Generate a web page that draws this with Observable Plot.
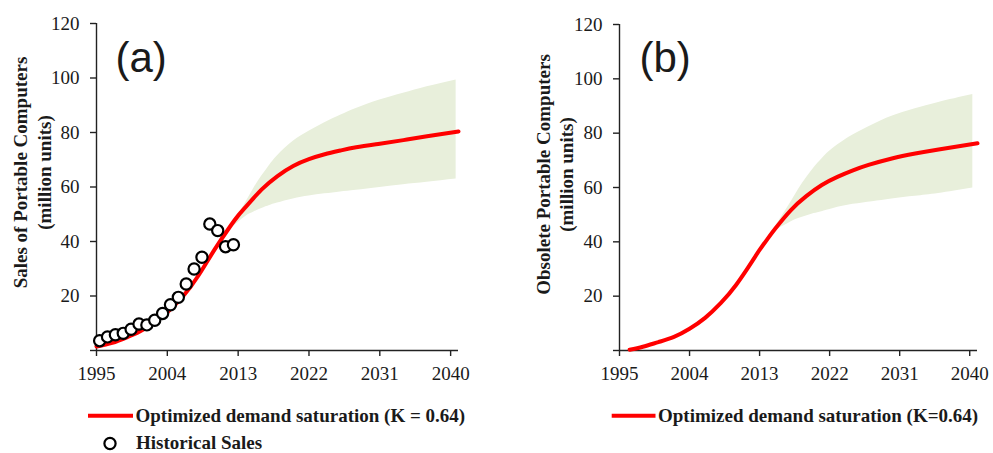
<!DOCTYPE html>
<html>
<head>
<meta charset="utf-8">
<script src="https://cdn.jsdelivr.net/npm/d3@7"></script>
<script src="https://cdn.jsdelivr.net/npm/@observablehq/plot@0.6"></script>
<style>
  html, body { margin: 0; padding: 0; background: #fff; }
  #root { position: relative; width: 993px; height: 453px; overflow: hidden; background: #fff; }
  #root > svg, #root > figure { position: absolute; top: 0; margin: 0; }
</style>
</head>
<body>
<div id="root"></div>
<script>
// ---------- data ----------
const tickYears = [1995, 2004, 2013, 2022, 2031, 2040];
const yTicks = [0, 20, 40, 60, 80, 100, 120];
const yTickLabels = ["", "20", "40", "60", "80", "100", "120"];

// Panel (a): historical sales (mid-year points)
const histYears = [1995, 1996, 1997, 1998, 1999, 2000, 2001, 2002, 2003, 2004, 2005, 2006, 2007, 2008, 2009, 2010, 2011, 2012];
const histSales = [3.6, 5.0, 5.8, 6.3, 7.8, 9.7, 9.4, 11.1, 13.6, 16.8, 19.5, 24.4, 29.9, 34.2, 46.4, 44.0, 38.1, 38.8];

// Panel (a): optimized demand saturation fit
const fitYearsA = [1995, 1997, 1999, 2001, 2003, 2004, 2006, 2008, 2010, 2012, 2013, 2014, 2016, 2018, 2020, 2022, 2024, 2026, 2028, 2031, 2034, 2037, 2041];
const fitValuesA = [1.5, 2.8, 5.0, 7.8, 11.8, 14.0, 19.9, 27.7, 37.0, 45.6, 49.5, 52.8, 59.1, 64.0, 67.7, 70.2, 72.0, 73.4, 74.6, 75.9, 77.2, 78.6, 80.4];

// Panel (a): uncertainty band
const bandYearsA = [2012.3, 2013, 2014, 2015, 2016, 2017, 2018, 2020, 2022, 2024, 2026, 2028, 2031, 2034, 2037, 2040.7];
const bandLowA   = [45.4, 47.0, 49.3, 50.8, 52.1, 53.2, 54.1, 55.6, 56.7, 57.5, 58.2, 58.8, 59.8, 60.8, 61.7, 62.9];
const bandHighA  = [45.4, 49.5, 54.5, 59.5, 64.0, 68.0, 71.5, 76.8, 80.5, 83.6, 86.3, 88.8, 91.9, 94.4, 96.8, 99.3];

// Panel (b): obsolete portable computers
const fitYearsB = [1996.3, 1998, 2000, 2002, 2004, 2006, 2008, 2010, 2012, 2013, 2014, 2015, 2017, 2019, 2021, 2023, 2025, 2027, 2030, 2033, 2036, 2041];
const fitValuesB = [0.3, 1.4, 3.1, 5.0, 8.0, 12.0, 17.4, 24.2, 32.6, 37.0, 41.0, 44.8, 51.6, 56.8, 60.9, 63.9, 66.3, 68.3, 70.7, 72.5, 74.0, 76.3];

const bandYearsB = [2013.9, 2015, 2016, 2017, 2018, 2019, 2020, 2021, 2022.5, 2025, 2027.5, 2030, 2033, 2036, 2040.4];
const bandLowB   = [40.6, 43.8, 45.7, 47.3, 48.6, 49.5, 50.4, 51.1, 52.3, 53.8, 54.8, 55.8, 56.8, 57.8, 59.8];
const bandHighB  = [40.6, 45.5, 50.0, 54.5, 59.3, 63.5, 67.3, 70.5, 74.5, 79.3, 83.0, 86.2, 89.0, 91.3, 94.2];

const legendA = ["Optimized demand saturation (K = 0.64)", "Historical Sales"];
const legendB = ["Optimized demand saturation (K=0.64)"];
const yLabelA = "Sales of Portable Computers\n(million units)";
const yLabelB = "Obsolete Portable Computers\n(million units)";

// ---------- helpers ----------
const zip = (xs, ...cols) => xs.map((x, i) => [x, ...cols.map(c => c[i])]);
const RED = "#ff0000";
const BAND = "#e8efdb";
const INK = "#1a1a1a";
const SERIF = "'Liberation Serif', 'Times New Roman', serif";

function panel({width, marginLeft, marginRight, marginTop, fit, band, hist, yLabel, labelDx, labelDy, tag, tagDx, tagDy}) {
  const yTickData = zip(yTicks, yTickLabels);
  const marks = [
    Plot.areaY(band, {x: d => d[0], y1: d => d[1], y2: d => d[2], fill: BAND, curve: "natural"}),
    Plot.ruleY([0], {stroke: "#222", strokeWidth: 1.4}),
    Plot.ruleX([1995], {stroke: "#222", strokeWidth: 1.4}),
    Plot.axisX({ticks: tickYears, tickSize: 6, text: null, stroke: "#222", strokeWidth: 1.4}),
    Plot.axisY({ticks: yTicks, tickSize: 6, text: null, stroke: "#222", strokeWidth: 1.4}),
    Plot.text(tickYears, {x: d => d, frameAnchor: "bottom", lineAnchor: "top", textAnchor: "middle", dy: 16,
      text: d => String(d), fontFamily: SERIF, fontSize: 19, fill: INK}),
    Plot.text(yTickData, {y: d => d[0], text: d => d[1], frameAnchor: "left", lineAnchor: "middle", textAnchor: "end", dx: -17,
      fontFamily: SERIF, fontSize: 19, fill: INK}),
    Plot.line(fit, {x: d => d[0], y: d => d[1], stroke: RED, strokeWidth: 4, curve: "natural"}),
  ];
  if (hist) {
    marks.push(Plot.dot(hist, {x: d => d[0] + 0.4, y: d => d[1], r: 5.6, stroke: "#000", strokeWidth: 2.2, fill: "white"}));
  }
  marks.push(
    Plot.text([yLabel], {frameAnchor: "left", rotate: -90, textAnchor: "middle", lineAnchor: "middle",
      lineHeight: 1.24, dx: labelDx, dy: labelDy, fontWeight: "bold", fill: INK, fontSize: 19, fontFamily: SERIF}),
    Plot.text([tag], {frameAnchor: "top-left", textAnchor: "start", lineAnchor: "bottom",
      dx: tagDx, dy: tagDy, fontFamily: "'Liberation Sans', Arial, sans-serif", fontSize: 42, fill: INK})
  );
  return Plot.plot({
    width, height: 385,
    marginLeft, marginRight, marginTop, marginBottom: 35,
    x: {domain: [1995, 2041], axis: null},
    y: {domain: [0, 120], axis: null},
    style: {fontFamily: SERIF, fontSize: "19px", background: "transparent", overflow: "visible", color: INK},
    marks
  });
}

const root = document.getElementById("root");

const a = panel({
  width: 500, marginLeft: 96, marginRight: 42, marginTop: 23,
  fit: zip(fitYearsA, fitValuesA),
  band: zip(bandYearsA, bandLowA, bandHighA),
  hist: zip(histYears, histSales),
  yLabel: yLabelA, labelDx: -65, labelDy: -14.5,
  tag: "(a)", tagDx: 19, tagDy: 48
});
a.style.left = "0px";
root.appendChild(a);

const b = panel({
  width: 496, marginLeft: 122, marginRight: 16, marginTop: 24,
  fit: zip(fitYearsB, fitValuesB),
  band: zip(bandYearsB, bandLowB, bandHighB),
  hist: null,
  yLabel: yLabelB, labelDx: -65.5, labelDy: -13,
  tag: "(b)", tagDx: 20, tagDy: 47
});
b.style.left = "497px";
root.appendChild(b);

// ---------- legends ----------
const leg = d3.select(root).append("svg")
  .attr("width", 993).attr("height", 453)
  .style("left", "0px").style("pointer-events", "none")
  .style("font-family", SERIF).style("font-size", "19px").style("font-weight", "bold");

function legendLine(x1, x2, y, label) {
  leg.append("line").attr("x1", x1).attr("x2", x2).attr("y1", y).attr("y2", y)
    .attr("stroke", RED).attr("stroke-width", 4);
  leg.append("text").attr("x", x2 + 2.5).attr("y", y + 6.5).attr("fill", INK).text(label);
}
legendLine(88, 133, 415.7, legendA[0]);
leg.append("circle").attr("cx", 110).attr("cy", 443.5).attr("r", 5.6)
  .attr("fill", "none").attr("stroke", "#000").attr("stroke-width", 2.2);
leg.append("text").attr("x", 136).attr("y", 449).attr("fill", INK).text(legendA[1]);
legendLine(611.7, 655.5, 415.7, legendB[0]);
</script>
</body>
</html>
